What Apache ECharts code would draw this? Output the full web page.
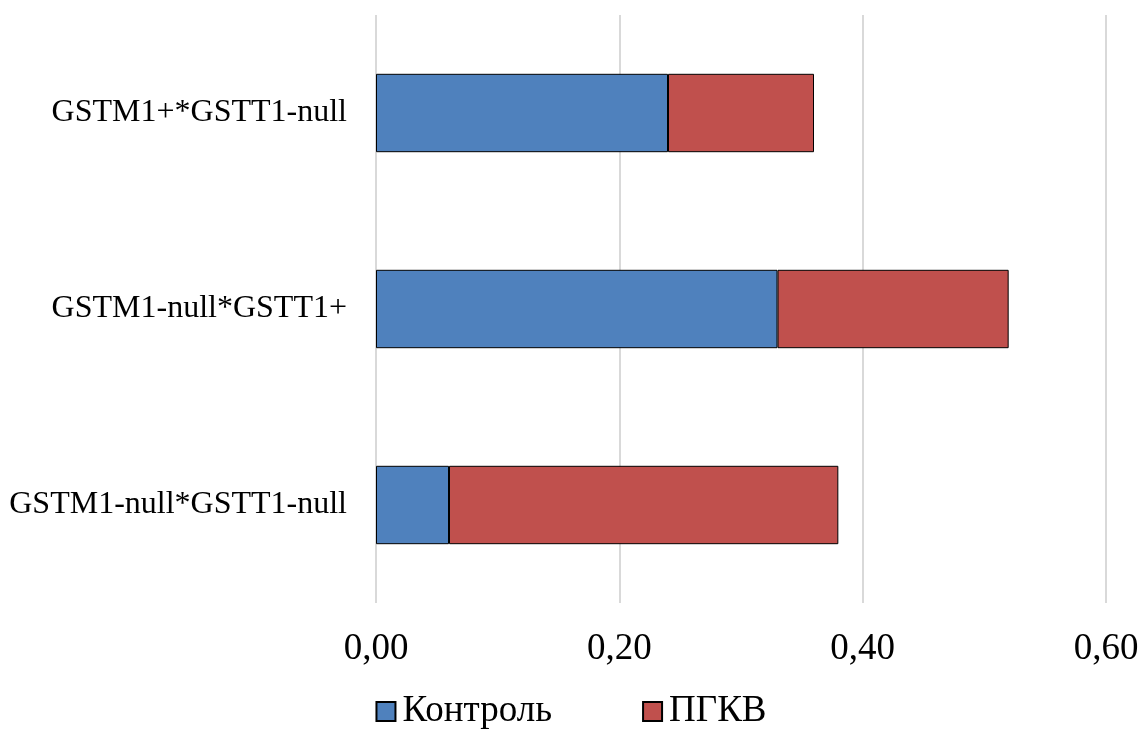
<!DOCTYPE html>
<html>
<head>
<meta charset="utf-8">
<script src="https://cdn.jsdelivr.net/npm/echarts@6/dist/echarts.min.js"></script>
<style>
  html, body { margin: 0; padding: 0; background: #fff; }
  #chart { width: 1142px; height: 729px; }
</style>
</head>
<body>
<div id="chart"></div>
<script>
// Genotype combinations (top to bottom)
const categories = ['GSTM1+*GSTT1-null', 'GSTM1-null*GSTT1+', 'GSTM1-null*GSTT1-null'];
// Frequencies per group
const controlValues = [0.24, 0.33, 0.06];
const pgkvValues = [0.12, 0.19, 0.32];
const seriesNames = ['Контроль', 'ПГКВ'];

const chart = echarts.init(document.getElementById('chart'));
const font = '"Liberation Serif", "Times New Roman", serif';

chart.setOption({
  animation: false,
  textStyle: { fontFamily: font },
  grid: { left: 376, right: 36, top: 15, bottom: 126, containLabel: false },
  legend: {
    top: 688,
    left: 'center',
    itemWidth: 19,
    itemHeight: 19,
    itemGap: 90,
    icon: 'rect',
    textStyle: { fontFamily: font, fontSize: 37, color: '#000', padding: [0, 0, 0, 2] },
    data: seriesNames
  },
  xAxis: {
    type: 'value',
    min: 0,
    max: 0.6,
    interval: 0.2,
    axisLine: { show: false },
    axisTick: { show: false },
    splitLine: { lineStyle: { color: '#d9d9d9', width: 2 } },
    axisLabel: {
      fontFamily: font,
      fontSize: 37,
      color: '#000',
      margin: 28,
      formatter: v => v.toFixed(2).replace('.', ',')
    }
  },
  yAxis: {
    type: 'category',
    inverse: true,
    data: categories,
    axisLine: { show: false },
    axisTick: { show: false },
    axisLabel: { fontFamily: font, fontSize: 32, color: '#000', margin: 29, padding: [4, 0, 0, 0] }
  },
  series: [
    {
      name: seriesNames[0],
      type: 'bar',
      stack: 'total',
      barWidth: '40%',
      data: controlValues,
      itemStyle: { color: '#4F81BD', borderColor: '#000', borderWidth: 1 }
    },
    {
      name: seriesNames[1],
      type: 'bar',
      stack: 'total',
      barWidth: '40%',
      data: pgkvValues,
      itemStyle: { color: '#C0504D', borderColor: '#000', borderWidth: 1 }
    }
  ]
});
</script>
</body>
</html>
